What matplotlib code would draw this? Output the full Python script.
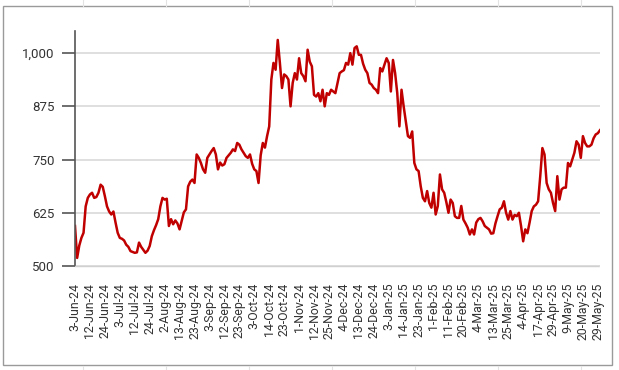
import matplotlib
matplotlib.use("Agg")
import matplotlib.pyplot as plt
from matplotlib.patches import Rectangle
from matplotlib.lines import Line2D
from matplotlib.ticker import FuncFormatter

plt.rcParams['font.family'] = ['Roboto', 'DejaVu Sans']

# 每个交易日的数值
values = [
    594, 519, 548, 566, 578, 640, 660, 668, 672, 660,
    662, 672, 691, 686, 664, 640, 628, 621, 628, 602,
    578, 566, 564, 560, 550, 545, 535, 533, 531, 532,
    555, 545, 538, 531, 536, 547, 570, 584, 596, 610,
    640, 660, 656, 658, 594, 610, 598, 607, 600, 586,
    606, 626, 633, 687, 698, 703, 695, 762, 754, 742,
    727, 719, 754, 762, 770, 777, 762, 727, 743, 736,
    739, 754, 760, 766, 774, 770, 789, 785, 774, 766,
    758, 754, 762, 740, 727, 723, 695, 760, 789, 778,
    805, 828, 938, 977, 961, 1031, 977, 918, 950, 946,
    938, 875, 930, 953, 938, 988, 953, 946, 934, 1008,
    980, 969, 902, 898, 906, 887, 914, 875, 906, 902,
    914, 910, 906, 930, 953, 957, 960, 977, 973, 1000,
    973, 1012, 1016, 996, 996, 975, 961, 953, 930, 926,
    918, 914, 906, 965, 957, 973, 988, 977, 910, 984,
    953, 906, 828, 914, 875, 840, 805, 801, 816, 742,
    727, 723, 687, 660, 652, 676, 648, 637, 672, 621,
    641, 715, 680, 672, 650, 625, 656, 648, 617, 613,
    613, 641, 609, 600, 590, 574, 586, 574, 602, 610,
    613, 605, 594, 590, 586, 576, 577, 600, 617, 633,
    637, 652, 625, 609, 629, 609, 620, 617, 625, 594,
    558, 586, 577, 602, 629, 640, 644, 652, 711, 777,
    762, 695, 680, 672, 648, 629, 711, 656, 680, 684,
    684, 742, 734, 750, 766, 793, 785, 754, 805, 789,
    781, 781, 785, 800, 809, 812, 819,
]

# x轴刻度标签（每7个交易日一个）
x_labels = [
    "3-Jun-24", "12-Jun-24", "24-Jun-24", "3-Jul-24", "12-Jul-24", "24-Jul-24",
    "2-Aug-24", "13-Aug-24", "23-Aug-24", "3-Sep-24", "12-Sep-24", "23-Sep-24",
    "3-Oct-24", "14-Oct-24", "23-Oct-24", "1-Nov-24", "12-Nov-24", "25-Nov-24",
    "4-Dec-24", "13-Dec-24", "24-Dec-24", "3-Jan-25", "14-Jan-25", "23-Jan-25",
    "1-Feb-25", "11-Feb-25", "20-Feb-25", "4-Mar-25", "13-Mar-25", "25-Mar-25",
    "4-Apr-25", "17-Apr-25", "29-Apr-25", "9-May-25", "20-May-25", "29-May-25",
]
label_step = 7
y_ticks = [500, 625, 750, 875, 1000]

fig = plt.figure(figsize=(6.19, 3.70), dpi=100)

# 外框（类似表格里嵌入的图表）
for xp in [83, 166, 249, 332, 415, 498, 581]:
    fig.add_artist(Line2D([xp / 619, xp / 619], [0.985, 1.0], color='#e3e3e3', lw=0.8))
    fig.add_artist(Line2D([xp / 619, xp / 619], [0.0, 0.012], color='#e3e3e3', lw=0.8))
fig.add_artist(Rectangle((3 / 619, 5 / 370), 609 / 619, 359 / 370, transform=fig.transFigure,
                         fill=False, edgecolor='#9a9a9a', lw=1.0))

ax = fig.add_axes([75 / 619, 1 - 266 / 370, 525 / 619, 235 / 370])

x = range(len(values))
ax.plot(x, values, color='#c00000', lw=1.8, solid_joinstyle='round')

ax.set_xlim(0, len(values) - 1)
ax.set_ylim(500, 1052)

ax.set_yticks(y_ticks)
ax.yaxis.set_major_formatter(FuncFormatter(lambda v, p: "{:,.0f}".format(v)))
ax.set_xticks(range(0, len(x_labels) * label_step, label_step))
ax.set_xticklabels(x_labels, rotation=90)

# 网格
ax.grid(True, axis='y', color='#d9d9d9', lw=1.2)
ax.set_axisbelow(True)

for s in ['top', 'right']:
    ax.spines[s].set_visible(False)
ax.spines['left'].set_color('#555555')
ax.spines['left'].set_linewidth(1.2)
ax.spines['bottom'].set_color('#d0d0d0')
ax.spines['bottom'].set_linestyle((0, (1, 1)))
ax.spines['bottom'].set_linewidth(1.0)

ax.tick_params(axis='y', length=9.5, width=1.2, color='#555555', labelsize=9.5,
               labelcolor='#333333', pad=5)
ax.tick_params(axis='x', length=0, labelsize=8.8, labelcolor='#333333', pad=12)
for lbl in ax.get_xticklabels():
    lbl.set_verticalalignment('top')

plt.savefig("out.png", dpi=100)
